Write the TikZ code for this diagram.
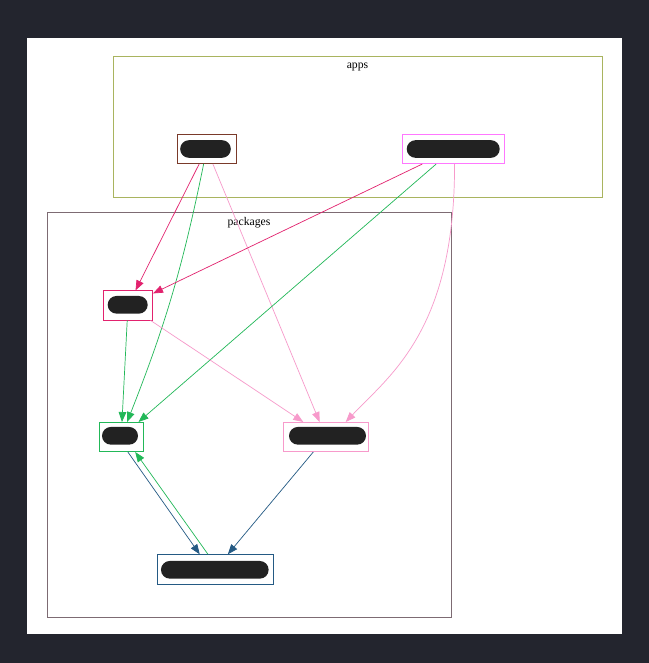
\documentclass[tikz,border=0pt]{standalone}
\usepackage{fontspec}
\setmainfont{Liberation Serif}
\usetikzlibrary{arrows.meta}
\definecolor{bgdark}{HTML}{23252E}
\definecolor{pillgray}{HTML}{222222}
\definecolor{appsframe}{HTML}{A9B45F}
\definecolor{pkgframe}{HTML}{7D6B73}
\definecolor{appAcol}{HTML}{7A3A2A}
\definecolor{appBcol}{HTML}{FF77FF}
\definecolor{coreCol}{HTML}{E2226E}
\definecolor{utilCol}{HTML}{22B858}
\definecolor{uiCol}{HTML}{F79ACB}
\definecolor{baseCol}{HTML}{245A84}
\tikzset{every path/.style={line width=0.6pt}, box/.style={draw, rectangle, inner sep=0pt, minimum height=0.88cm}, pill/.style={fill=pillgray, rectangle, rounded corners=0.265cm, inner sep=0pt, minimum height=0.53cm}, dep/.style={-{Triangle[length=8.5pt,width=6.5pt]}}}

\begin{document}
\begin{tikzpicture}[x=0.03cm,y=-0.03cm]
  \fill[bgdark] (0,0) rectangle (649,663);
  \fill[white] (27,38) rectangle (622,634);
  \draw[appsframe] (113,56) rectangle (602,197);
  \draw[pkgframe] (47,212) rectangle (451,617);
  \node[font=\fontsize{10}{12}\selectfont] (appslabel) at (357.5,67) {apps};
  \node[font=\fontsize{10}{12}\selectfont] (pkglabel) at (249,222.5) {packages};
  \node[box, draw=appAcol, minimum width=1.78cm] (appA) at (206.7,149) {};
  \node[pill, minimum width=1.52cm] (appApill) at (205.5,149) {};
  \node[box, draw=appBcol, minimum width=3.07cm] (appB) at (453.5,149) {};
  \node[pill, minimum width=2.79cm] (appBpill) at (453.2,149) {};
  \node[box, draw=coreCol, minimum width=1.48cm] (core) at (128,305.4) {};
  \node[pill, minimum width=1.2cm] (corepill) at (127.7,304.8) {};
  \node[box, draw=utilCol, minimum width=1.33cm] (util) at (121.2,437) {};
  \node[pill, minimum width=1.08cm] (utilpill) at (120,435.8) {};
  \node[box, draw=uiCol, minimum width=2.55cm] (ui) at (325.8,437) {};
  \node[pill, minimum width=2.31cm] (uipill) at (327.5,435.8) {};
  \node[box, draw=baseCol, minimum width=3.48cm] (base) at (215.3,569.3) {};
  \node[pill, minimum width=3.23cm] (basepill) at (214.8,569.8) {};
  \draw[dep, coreCol] (appA) -- (core);
  \draw[dep, utilCol] (appA) to[bend left=5] (util);
  \draw[dep, uiCol] (appA) -- (ui);
  \draw[dep, coreCol] (appB) -- (core);
  \draw[dep, utilCol] (appB) -- (util);
  \draw[dep, uiCol] (appB.-86) .. controls (455,330) and (390,375) .. (ui.37);
  \draw[dep, utilCol] (core) -- (util);
  \draw[dep, uiCol] (core) -- (ui);
  \draw[dep, baseCol] (util.-66) -- (base.136);
  \draw[dep, utilCol] (base.116) -- (util.-47);
  \draw[dep, baseCol] (ui) -- (base);
\end{tikzpicture}
\end{document}
